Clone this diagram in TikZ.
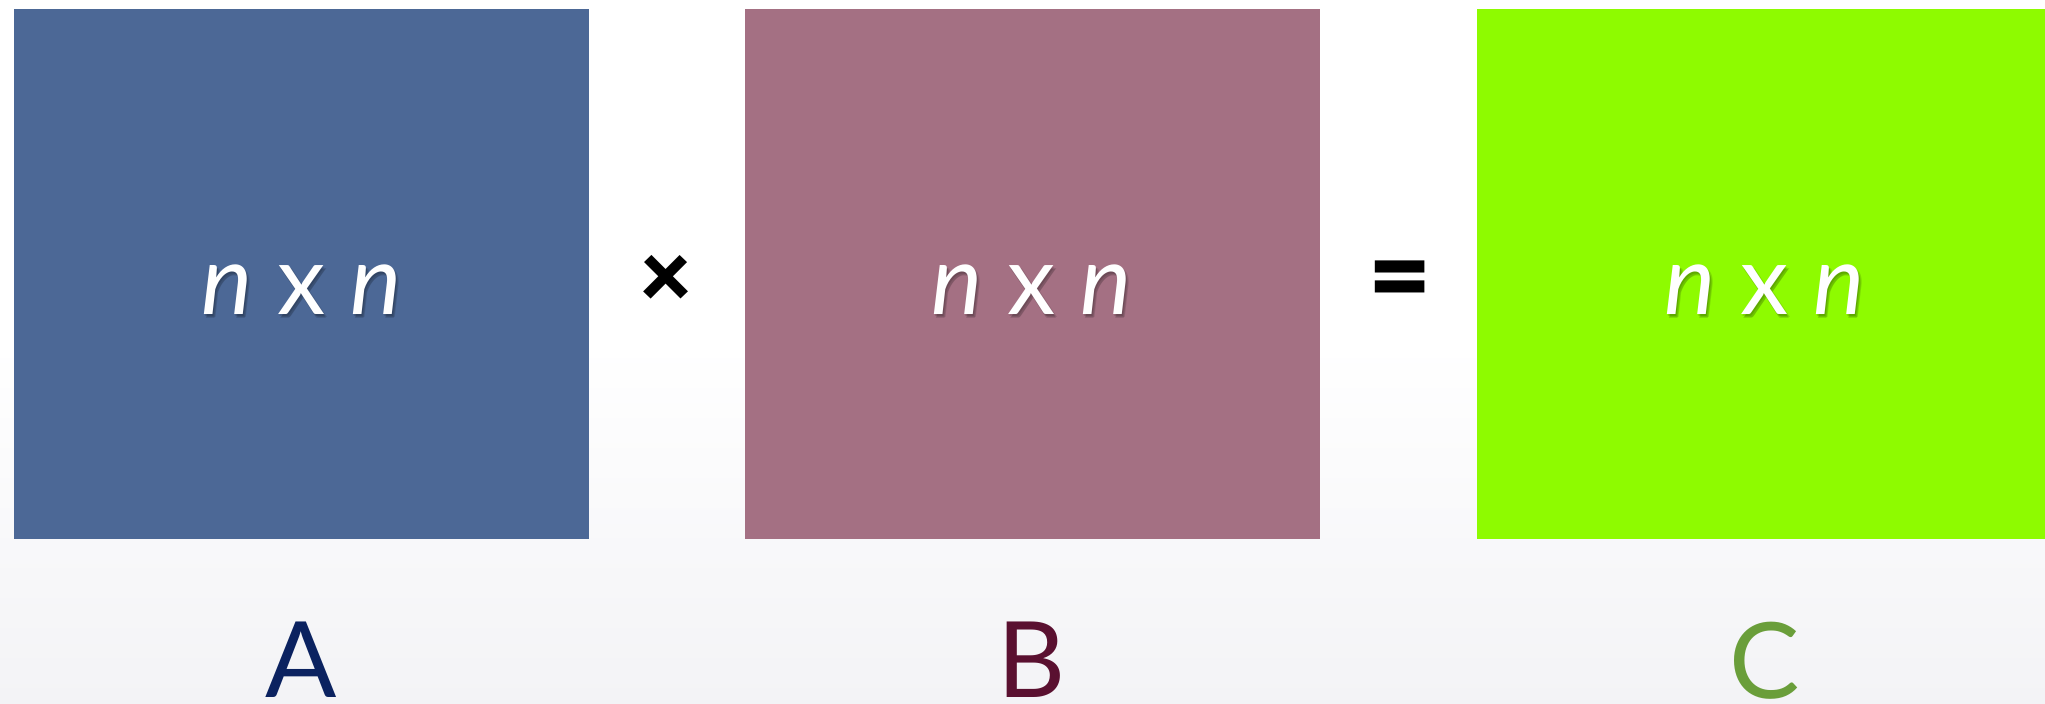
\documentclass[tikz,border=0pt]{standalone}
\usepackage{fontspec}
\setmainfont{Lato}
\newfontfamily\opfont{Lato Black}
\usetikzlibrary{positioning}
\definecolor{matblue}{HTML}{4C6896}
\definecolor{matrose}{HTML}{A47083}
\definecolor{matgreen}{HTML}{8EFB00}
\definecolor{labblue}{HTML}{0B2260}
\definecolor{labrose}{HTML}{5A1030}
\definecolor{labgreen}{HTML}{6A9E3A}
\definecolor{bggray}{HTML}{F3F3F6}
\begin{document}
\begin{tikzpicture}[
    matbox/.style={minimum width=5.75cm, minimum height=5.30cm, inner sep=0pt, outer sep=0pt},
    dimtext/.style={anchor=base, text=white, inner sep=0pt, font=\fontsize{27.5}{30}\selectfont},
    dimshadow/.style={dimtext, text=black, opacity=0.12},
    optext/.style={inner sep=0pt, font=\opfont\fontsize{#1}{#1}\selectfont},
    matlabel/.style={inner sep=0pt, font=\fontsize{30}{32}\selectfont}
  ]
  \useasboundingbox (0,0) rectangle (20.45,7.03);
  \fill[white] (0,0) rectangle (20.45,7.03);
  \shade[top color=white, bottom color=bggray] (0,0) rectangle (20.45,3.6);
  % the three matrices
  \node[matbox, fill=matblue] (matA) at (3.015,4.29) {};
  \node[matbox, fill=matrose] (matB) at (10.32,4.29) {};
  \node[matbox, fill=matgreen] (matC) at (17.645,4.29) {};
  \foreach \m in {A,B,C}{
    \foreach \dx/\dy in {0.01/-0.42, 0.03/-0.43, 0.02/-0.44}
      \node[dimshadow, xshift=\dx cm, yshift=\dy cm] at (mat\m) {\textit{n} x \textit{n}};
    \node[dimtext, yshift=-0.40cm] (dim\m) at (mat\m) {\textit{n} x \textit{n}};
  }
  \node[optext=26] (times) at (6.655,4.22) {×};
  \node[optext=31] (equals) at (14.00,4.16) {=};
  \node[matlabel, text=labblue, below=0.82cm of matA] (labA) {A};
  \node[matlabel, text=labrose, below=0.82cm of matB] (labB) {B};
  \node[matlabel, text=labgreen, below=0.82cm of matC] (labC) {C};
\end{tikzpicture}
\end{document}
